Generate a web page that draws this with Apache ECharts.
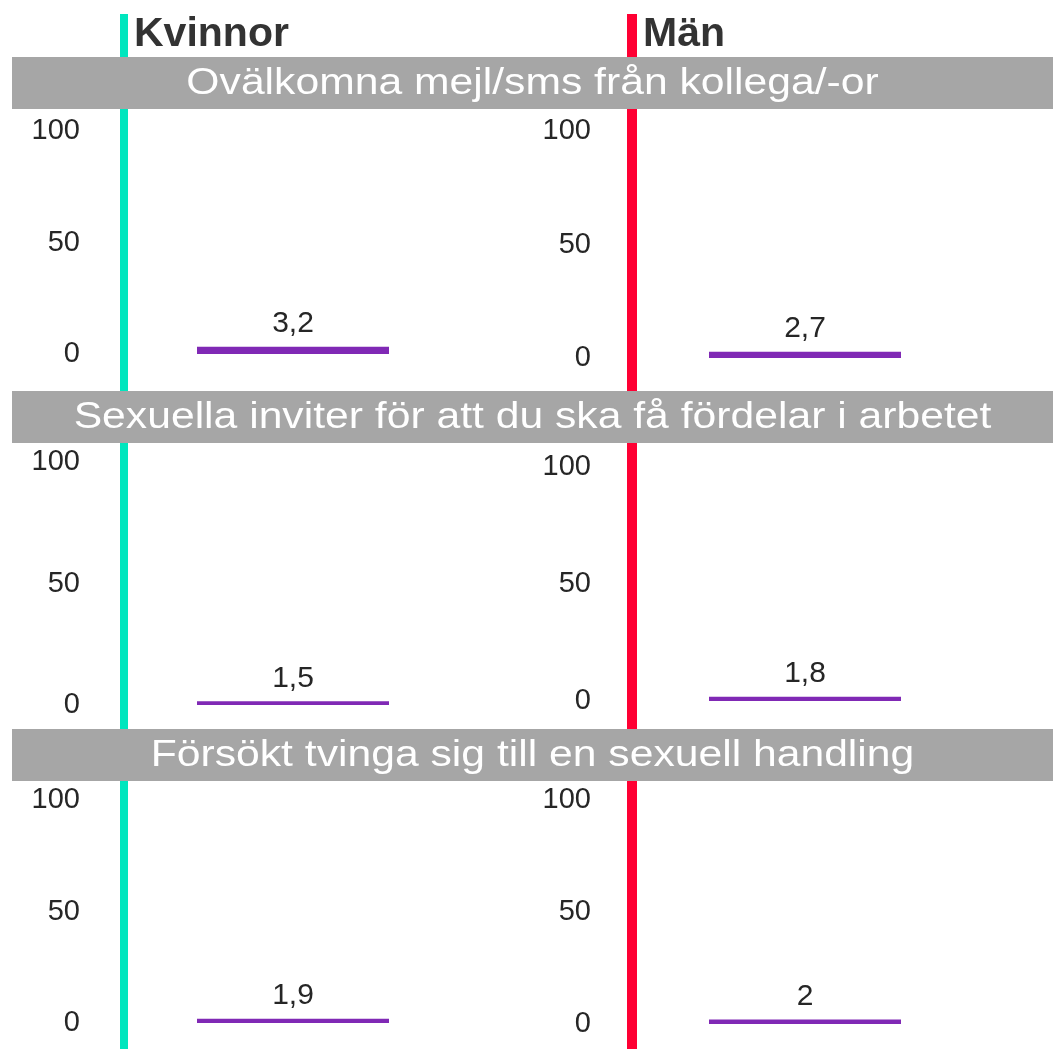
<!DOCTYPE html>
<html>
<head>
<meta charset="utf-8">
<script src="https://cdn.jsdelivr.net/npm/echarts@6/dist/echarts.min.js"></script>
<style>
html,body{margin:0;padding:0;background:#fff;}
#main{width:1053px;height:1049px;}
</style>
</head>
<body>
<div id="main"></div>
<script>
// ---- data ----
const groups = ['Kvinnor', 'Män'];
const rowTitles = [
  'Ovälkomna mejl/sms från kollega/-or',
  'Sexuella inviter för att du ska få fördelar i arbetet',
  'Försökt tvinga sig till en sexuell handling'
];
const kvinnor = [3.2, 1.5, 1.9];
const man = [2.7, 1.8, 2];
const yTicks = [0, 50, 100];

// ---- layout ----
const FONT = '"Liberation Sans", Arial, sans-serif';
const colLeft = [88, 599];
const colWidth = [410, 412];
const panelTB = [ // [top, bottom] per row per column
  [[131, 354], [131, 358]],
  [[462, 705], [467, 701]],
  [[800, 1023], [800, 1024]]
];
const bannerY = [57, 391, 729];
const bannerH = 52;
const lineColors = ['#00E6BE', '#FF0033'];
const lineX = [120, 627];
const lineW = [8, 10];

const chart = echarts.init(document.getElementById('main'), null, {renderer: 'canvas'});

const grids = [], xAxes = [], yAxes = [], series = [];
const seriesData = [kvinnor, man];
let idx = 0;
for (let r = 0; r < rowTitles.length; r++) {
  for (let c = 0; c < groups.length; c++) {
    const [t, b] = panelTB[r][c];
    grids.push({left: colLeft[c], width: colWidth[c], top: t, height: b - t, containLabel: false});
    xAxes.push({type: 'category', gridIndex: idx, data: [groups[c]], show: false});
    yAxes.push({
      type: 'value', gridIndex: idx, min: yTicks[0], max: yTicks[yTicks.length - 1],
      interval: yTicks[1] - yTicks[0],
      axisLine: {show: false}, axisTick: {show: false}, splitLine: {show: false},
      axisLabel: {color: '#262626', fontSize: 29, fontFamily: FONT, margin: 8}
    });
    series.push({
      type: 'bar', xAxisIndex: idx, yAxisIndex: idx,
      data: [seriesData[c][r]], barWidth: 192,
      itemStyle: {color: '#8029B5'},
      label: {
        show: true, position: 'top', distance: 8, color: '#262626', fontSize: 30,
        fontFamily: FONT, formatter: p => String(p.value).replace('.', ',')
      },
      silent: true
    });
    idx++;
  }
}

const graphics = [];
for (let c = 0; c < groups.length; c++) {
  graphics.push({type: 'rect', shape: {x: lineX[c], y: 14, width: lineW[c], height: 1049 - 14},
    style: {fill: lineColors[c]}, z: 1});
  graphics.push({type: 'text', x: lineX[c] + lineW[c] + 6, y: 35,
    style: {text: groups[c], fill: '#333333', font: 'bold 41px ' + FONT, textVerticalAlign: 'middle'}, z: 3});
}
for (let r = 0; r < rowTitles.length; r++) {
  graphics.push({type: 'rect', shape: {x: 12, y: bannerY[r], width: 1053 - 12, height: bannerH},
    style: {fill: '#A6A6A6'}, z: 5});
  graphics.push({type: 'text', x: (12 + 1053) / 2, y: bannerY[r] + bannerH / 2 + 1, scaleX: 1.185,
    style: {text: rowTitles[r], fill: '#ffffff', font: '36px ' + FONT, textAlign: 'center', textVerticalAlign: 'middle'}, z: 6});
}

chart.setOption({
  animation: false,
  backgroundColor: '#ffffff',
  grid: grids, xAxis: xAxes, yAxis: yAxes, series: series,
  graphic: graphics
});
</script>
</body>
</html>
